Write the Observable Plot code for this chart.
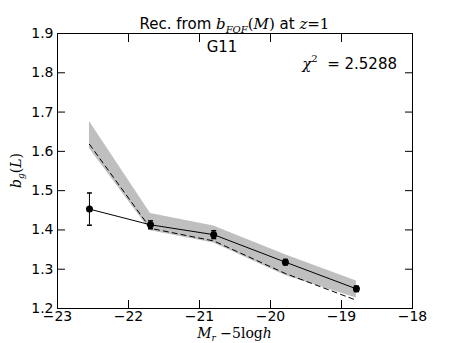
<!DOCTYPE html>
<html><head><meta charset="utf-8">
<script src="https://cdn.jsdelivr.net/npm/d3@7"></script>
<script src="https://cdn.jsdelivr.net/npm/@observablehq/plot@0.6"></script>
<style>body{margin:0;background:#fff}</style>
</head><body><div id="chart"></div>
<script>
const magnitudes   = [-22.55, -21.69, -20.80, -19.79, -18.79];
const biasMeasured = [1.453, 1.413, 1.388, 1.318, 1.250];
const biasError    = [0.041, 0.010, 0.010, 0.007, 0.007];
const bandLow      = [1.607, 1.398, 1.367, 1.284, 1.227];
const bandHigh     = [1.676, 1.442, 1.410, 1.337, 1.270];
const biasModel    = [1.618, 1.404, 1.372, 1.289, 1.221];
const xTicks = [-23, -22, -21, -20, -19, -18];
const yTicks = [1.2, 1.3, 1.4, 1.5, 1.6, 1.7, 1.8, 1.9];
const sampleName = "G11";
const chi2Value = "2.5288";

const rows = magnitudes.map((m, i) => ({
  m, b: biasMeasured[i],
  lo: biasMeasured[i] - biasError[i], hi: biasMeasured[i] + biasError[i],
  bandLo: bandLow[i], bandHi: bandHigh[i], model: biasModel[i]
}));

const capSymbol = {draw(ctx) { ctx.moveTo(-2.5, 0); ctx.lineTo(2.5, 0); }};
const SANS = "DejaVu Sans";
const SERIF = "DejaVu Serif";

const plot = Plot.plot({
  width: 458, height: 343,
  marginLeft: 57, marginRight: 46, marginTop: 33, marginBottom: 35,
  x: {domain: [-23, -18]},
  y: {domain: [1.2, 1.9]},
  style: {fontFamily: SANS, fontSize: "14px", color: "black", background: "white"},
  marks: [
    Plot.areaY(rows, {x: "m", y1: "bandLo", y2: "bandHi", fill: "#bfbfbf"}),
    Plot.line(rows, {x: "m", y: "model", stroke: "black", strokeWidth: 1, strokeDasharray: "5,4"}),
    Plot.line(rows, {x: "m", y: "b", stroke: "black", strokeWidth: 1}),
    Plot.ruleX(rows, {x: "m", y1: "lo", y2: "hi", stroke: "black", strokeWidth: 1}),
    Plot.dot(rows, {x: "m", y: "lo", symbol: capSymbol, stroke: "black", fill: "none"}),
    Plot.dot(rows, {x: "m", y: "hi", symbol: capSymbol, stroke: "black", fill: "none"}),
    Plot.dot(rows, {x: "m", y: "b", r: 3.5, fill: "black", stroke: "none"}),
    Plot.frame({stroke: "black", strokeWidth: 1}),
    Plot.axisX({ticks: xTicks, tickSize: 0, tickPadding: 3, tickFormat: d3.format("d"), label: null}),
    Plot.axisX({ticks: xTicks, tickSize: -8, tickFormat: () => "", label: null}),
    Plot.axisX({anchor: "top", ticks: xTicks, tickSize: -8, tickFormat: () => "", label: null}),
    Plot.axisY({ticks: yTicks, tickSize: 0, tickPadding: 4, tickFormat: d3.format(".1f"), label: null}),
    Plot.axisY({ticks: yTicks, tickSize: -8, tickFormat: () => "", label: null}),
    Plot.axisY({anchor: "right", ticks: yTicks, tickSize: -8, tickFormat: () => "", label: null})
  ]
});
document.getElementById("chart").appendChild(plot);

const svg = d3.select(plot);
const L = 57, R = 458 - 46, T = 33, B = 343 - 35;
const cx = (L + R) / 2;

function addRich(parent, parts) {
  for (const p of parts) {
    const t = parent.append("tspan").text(p.t);
    t.attr("font-family", p.serif ? SERIF : SANS);
    if (p.it) t.attr("font-style", "italic");
    if (p.fs) t.attr("font-size", p.fs);
    if (p.dy) t.attr("dy", p.dy);
  }
}

// Title
const title = svg.append("text").attr("x", cx).attr("y", 29)
  .attr("text-anchor", "middle").attr("font-size", 15).attr("fill", "black");
addRich(title, [
  {t: "Rec. from "},
  {t: "b", serif: true, it: true},
  {t: "FOF", serif: true, it: true, fs: 10, dy: 4},
  {t: "(", serif: true, dy: -4},
  {t: "M", serif: true, it: true},
  {t: ")", serif: true},
  {t: " at "},
  {t: "z", serif: true, it: true},
  {t: "=1", serif: true}
]);

// Sample name
svg.append("text").attr("x", 222).attr("y", 52).attr("text-anchor", "middle")
  .attr("font-size", 15).attr("font-family", SANS).attr("fill", "black").text(sampleName);

// Chi^2
const chi = svg.append("text").attr("x", 397).attr("y", 69).attr("text-anchor", "end")
  .attr("font-size", 15).attr("fill", "black");
addRich(chi, [
  {t: "χ", serif: true, it: true},
  {t: "2", serif: true, fs: 10, dy: -7},
  {t: "  = " + chi2Value, dy: 7}
]);
chi.attr("xml:space", "preserve").style("white-space", "pre");

// X label
const xl = svg.append("text").attr("x", cx).attr("y", 338).attr("text-anchor", "middle")
  .attr("font-size", 14).attr("fill", "black");
addRich(xl, [
  {t: "M", serif: true, it: true},
  {t: "r", serif: true, it: true, fs: 9, dy: 3},
  {t: " −5log", serif: true, dy: -3},
  {t: "h", serif: true, it: true}
]);

// Y label
const yl = svg.append("text").attr("transform", `translate(21,${(T + B) / 2}) rotate(-90)`)
  .attr("text-anchor", "middle").attr("font-size", 14).attr("fill", "black");
addRich(yl, [
  {t: "b", serif: true, it: true},
  {t: "g", serif: true, it: true, fs: 9, dy: 3},
  {t: "(", serif: true, dy: -3},
  {t: "L", serif: true, it: true},
  {t: ")", serif: true}
]);
</script>
</body></html>
